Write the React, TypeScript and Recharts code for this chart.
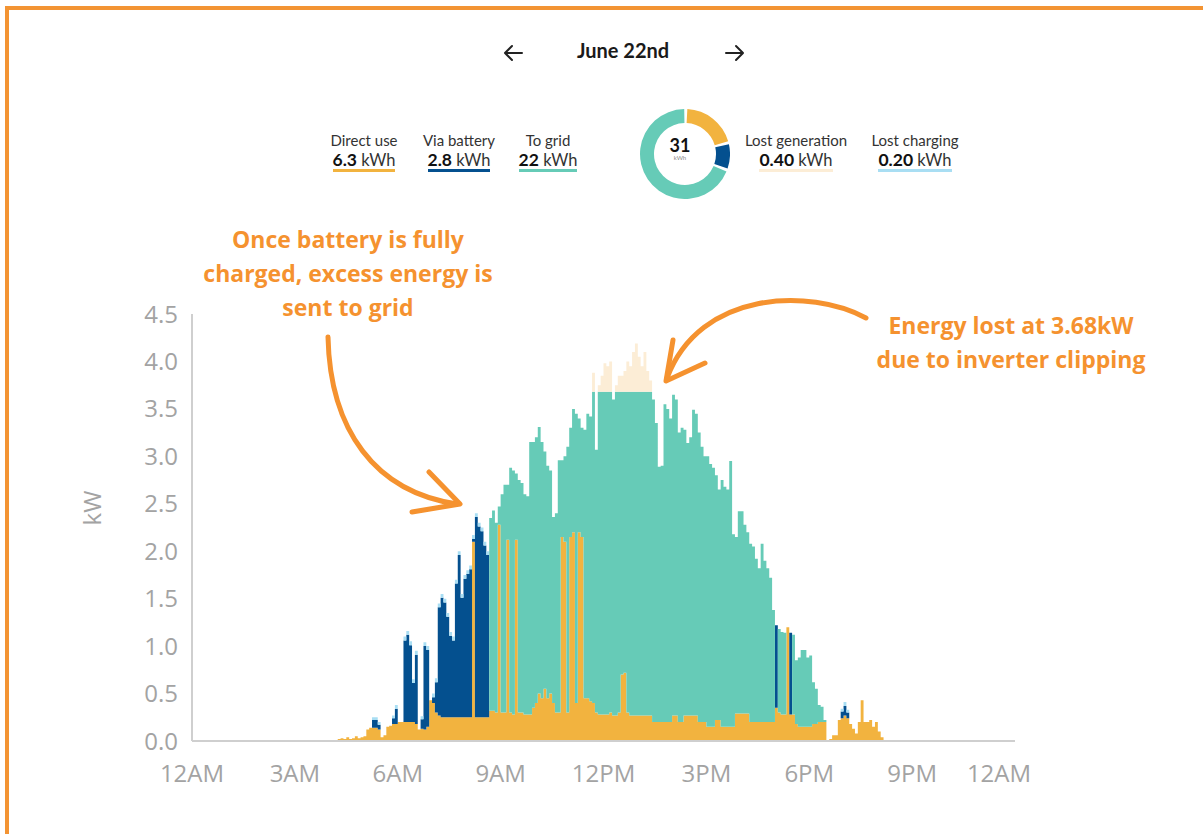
import React from 'react';
import { ComposedChart, Area, XAxis, YAxis, PieChart, Pie, Cell } from 'recharts';

// 5-minute slots from 4:00 AM to 8:55 PM, one row per hour (kW)
const START_HOUR = 4;
const STEP_MIN = 5;

const directUse = [
  0, 0, 0, 0.02, 0.03, 0.02, 0.04, 0.02, 0.03, 0.05, 0.03, 0.04, // 4AM
  0.05, 0.12, 0.14, 0.14, 0.14, 0.12, 0.04, 0.06, 0.15, 0.16, 0.18, 0.18, // 5AM
  0.2, 0.2, 0.2, 0.2, 0.2, 0.2, 0.18, 0.12, 0.13, 0.12, 0.15, 0.43, // 6AM
  0.4, 0.3, 0.27, 0.25, 0.25, 0.25, 0.25, 0.25, 0.25, 0.25, 0.25, 0.25, // 7AM
  0.25, 0.25, 2.1, 0.25, 0.25, 0.25, 0.25, 0.25, 0.32, 0.32, 0.3, 2.28, // 8AM
  0.3, 0.3, 2.12, 0.3, 0.28, 2.12, 0.3, 0.3, 0.28, 0.28, 0.28, 0.35, // 9AM
  0.4, 0.5, 0.45, 0.55, 0.45, 0.5, 0.4, 0.3, 0.3, 2.15, 2.1, 0.3, // 10AM
  2.15, 2.2, 0.4, 2.2, 2.15, 0.45, 0.45, 0.42, 0.4, 0.3, 0.28, 0.28, // 11AM
  0.28, 0.28, 0.3, 0.27, 0.27, 0.3, 0.7, 0.72, 0.3, 0.27, 0.27, 0.27, // 12PM
  0.27, 0.27, 0.27, 0.27, 0.27, 0.2, 0.2, 0.2, 0.2, 0.2, 0.2, 0.2, // 1PM
  0.27, 0.27, 0.2, 0.2, 0.27, 0.27, 0.27, 0.27, 0.27, 0.2, 0.2, 0.2, // 2PM
  0.15, 0.15, 0.15, 0.22, 0.22, 0.15, 0.15, 0.15, 0.15, 0.15, 0.29, 0.29, // 3PM
  0.29, 0.29, 0.29, 0.2, 0.2, 0.2, 0.2, 0.2, 0.2, 0.2, 0.2, 0.2, // 4PM
  0.35, 0.3, 0.28, 0.28, 1.2, 0.28, 0.28, 0.18, 0.15, 0.15, 0.15, 0.15, // 5PM
  0.15, 0.18, 0.18, 0.2, 0.2, 0.2, 0, 0.02, 0.06, 0.06, 0.22, 0.24, // 6PM
  0.27, 0.24, 0.18, 0.13, 0.08, 0.2, 0.43, 0.2, 0.2, 0.22, 0.15, 0.2, // 7PM
  0.1, 0.04, 0, 0, 0, 0, 0, 0, 0, 0, 0, 0, // 8PM
];

const viaBattery = [
  0, 0, 0, 0, 0, 0, 0, 0, 0, 0, 0, 0,
  0, 0, 0, 0.08, 0.08, 0.05, 0, 0, 0, 0, 0.06, 0.16,
  0, 0, 0.86, 0.92, 0.81, 0.41, 0.73, 0, 0.1, 0.88, 0.81, 0,
  0.06, 0.32, 1.14, 1.26, 1.21, 1.06, 0.86, 0.81, 1.41, 1.71, 1.26, 1.46,
  1.51, 1.56, 0.03, 2.11, 2.01, 1.96, 1.81, 1.71, 0, 0, 0, 0,
  0, 0, 0, 0, 0, 0, 0, 0, 0, 0, 0, 0,
  0, 0, 0, 0, 0, 0, 0, 0, 0, 0, 0, 0,
  0, 0, 0, 0, 0, 0, 0, 0, 0, 0, 0, 0,
  0, 0, 0, 0, 0, 0, 0, 0, 0, 0, 0, 0,
  0, 0, 0, 0, 0, 0, 0, 0, 0, 0, 0, 0,
  0, 0, 0, 0, 0, 0, 0, 0, 0, 0, 0, 0,
  0, 0, 0, 0, 0, 0, 0, 0, 0, 0, 0, 0,
  0, 0, 0, 0, 0, 0, 0, 0, 0, 0, 0, 0,
  0.87, 0, 0, 0, 0, 0.86, 0, 0, 0, 0, 0, 0,
  0, 0, 0, 0, 0, 0, 0, 0, 0, 0, 0, 0.07,
  0.1, 0.06, 0, 0, 0, 0, 0, 0, 0, 0, 0, 0,
  0, 0, 0, 0, 0, 0, 0, 0, 0, 0, 0, 0,
];

const lostCharging = [
  0, 0, 0, 0, 0, 0, 0, 0, 0, 0, 0, 0,
  0, 0, 0, 0.03, 0.03, 0.03, 0, 0, 0, 0, 0.03, 0.04,
  0, 0, 0.04, 0.04, 0.04, 0.04, 0.04, 0, 0.03, 0.04, 0.04, 0,
  0.04, 0.04, 0.04, 0.04, 0.04, 0.04, 0.04, 0.04, 0.04, 0.04, 0.04, 0.04,
  0.04, 0.04, 0.04, 0.04, 0.04, 0.04, 0.04, 0.04, 0, 0, 0, 0,
  0, 0, 0, 0, 0, 0, 0, 0, 0, 0, 0, 0,
  0, 0, 0, 0, 0, 0, 0, 0, 0, 0, 0, 0,
  0, 0, 0, 0, 0, 0, 0, 0, 0, 0, 0, 0,
  0, 0, 0, 0, 0, 0, 0, 0, 0, 0, 0, 0,
  0, 0, 0, 0, 0, 0, 0, 0, 0, 0, 0, 0,
  0, 0, 0, 0, 0, 0, 0, 0, 0, 0, 0, 0,
  0, 0, 0, 0, 0, 0, 0, 0, 0, 0, 0, 0,
  0, 0, 0, 0, 0, 0, 0, 0, 0, 0, 0, 0,
  0, 0, 0, 0, 0, 0, 0, 0, 0, 0, 0, 0,
  0, 0, 0, 0, 0, 0, 0, 0, 0, 0, 0, 0.03,
  0.04, 0.03, 0, 0, 0, 0, 0, 0, 0, 0, 0, 0,
  0, 0, 0, 0, 0, 0, 0, 0, 0, 0, 0, 0,
];

const toGrid = [
  0, 0, 0, 0, 0, 0, 0, 0, 0, 0, 0, 0,
  0, 0, 0, 0, 0, 0, 0, 0, 0, 0, 0, 0,
  0, 0, 0, 0, 0, 0, 0, 0, 0, 0, 0, 0,
  0, 0, 0, 0, 0, 0, 0, 0, 0, 0, 0, 0,
  0, 0, 0, 0, 0, 0, 0, 0, 2.03, 2.11, 2.0, 0.19,
  2.3, 2.4, 0.58, 2.58, 2.57, 0.7, 2.45, 2.42, 2.32, 2.3, 2.87, 2.8,
  2.8, 2.81, 2.7, 2.5, 2.45, 2.35, 1.96, 2.1, 2.66, 0.81, 0.9, 2.8,
  1.15, 1.3, 3.05, 1.2, 1.15, 2.83, 3.0, 3.0, 3.28, 2.77, 3.4, 3.4,
  3.4, 3.4, 3.38, 3.33, 3.41, 3.38, 2.98, 2.96, 3.38, 3.41, 3.41, 3.41,
  3.41, 3.41, 3.41, 3.41, 3.41, 3.4, 3.15, 2.69, 2.7, 3.35, 3.3, 3.2,
  3.38, 3.33, 3.05, 3.1, 3.01, 2.87, 2.93, 3.22, 3.18, 3.05, 2.9, 2.8,
  2.85, 2.77, 2.73, 2.58, 2.43, 2.6, 2.53, 2.5, 2.8, 2.03, 1.86, 2.13,
  2.13, 1.99, 1.91, 1.88, 1.85, 1.72, 1.62, 1.88, 1.7, 1.62, 1.52, 1.18,
  0, 0.88, 0.87, 0.86, 0, 0, 0.84, 0.67, 0.73, 0.81, 0.81, 0.73,
  0.75, 0.44, 0.37, 0.18, 0.16, 0.02, 0, 0, 0, 0, 0, 0,
  0, 0, 0, 0, 0, 0, 0, 0, 0, 0, 0, 0,
  0, 0, 0, 0, 0, 0, 0, 0, 0, 0, 0, 0,
];

// generation above the 3.68kW inverter limit
const lostGeneration = [
  0, 0, 0, 0, 0, 0, 0, 0, 0, 0, 0, 0,
  0, 0, 0, 0, 0, 0, 0, 0, 0, 0, 0, 0,
  0, 0, 0, 0, 0, 0, 0, 0, 0, 0, 0, 0,
  0, 0, 0, 0, 0, 0, 0, 0, 0, 0, 0, 0,
  0, 0, 0, 0, 0, 0, 0, 0, 0, 0, 0, 0,
  0, 0, 0, 0, 0, 0, 0, 0, 0, 0, 0, 0,
  0, 0, 0, 0, 0, 0, 0, 0, 0, 0, 0, 0,
  0, 0, 0, 0, 0, 0, 0, 0, 0.2, 0, 0.07, 0.17,
  0.3, 0.27, 0.32, 0, 0.07, 0.17, 0.17, 0.22, 0.32, 0.27, 0.42, 0.51,
  0.37, 0.27, 0.42, 0.22, 0.12, 0, 0, 0, 0, 0, 0, 0,
  0, 0, 0, 0, 0, 0, 0, 0, 0, 0, 0, 0,
  0, 0, 0, 0, 0, 0, 0, 0, 0, 0, 0, 0,
  0, 0, 0, 0, 0, 0, 0, 0, 0, 0, 0, 0,
  0, 0, 0, 0, 0, 0, 0, 0, 0, 0, 0, 0,
  0, 0, 0, 0, 0, 0, 0, 0, 0, 0, 0, 0,
  0, 0, 0, 0, 0, 0, 0, 0, 0, 0, 0, 0,
  0, 0, 0, 0, 0, 0, 0, 0, 0, 0, 0, 0,
];

const hourTicks = [0, 3, 6, 9, 12, 15, 18, 21, 24];
const hourLabels = ['12AM', '3AM', '6AM', '9AM', '12PM', '3PM', '6PM', '9PM', '12AM'];
const kwTicks = [0, 0.5, 1, 1.5, 2, 2.5, 3, 3.5, 4, 4.5];

const C_DIRECT = '#F2B33F';
const C_BATTERY = '#04508F';
const C_GRID = '#66CBB7';
const C_LOSTGEN = '#FCEDD6';
const C_LOSTCHG = '#A9DEF3';
const ORANGE = '#F5922F';

const donutNames = ['Direct use', 'Via battery', 'To grid'];
const donutValues = [6.3, 2.8, 22];
const donutColors = [C_DIRECT, C_BATTERY, C_GRID];
const donutTotal = '31';

const legendLeft = [
  { label: 'Direct use', value: '6.3', color: C_DIRECT, cx: 364 },
  { label: 'Via battery', value: '2.8', color: C_BATTERY, cx: 459 },
  { label: 'To grid', value: '22', color: C_GRID, cx: 548 },
];
const legendRight = [
  { label: 'Lost generation', value: '0.40', color: C_LOSTGEN, cx: 796 },
  { label: 'Lost charging', value: '0.20', color: C_LOSTCHG, cx: 915 },
];

const data = directUse.map((v, i) => ({
  t: START_HOUR + (i * STEP_MIN) / 60,
  direct: v,
  battery: viaBattery[i],
  lostChg: lostCharging[i],
  grid: toGrid[i],
  lostGen: lostGeneration[i],
}));

const font = 'Lato, "Open Sans", sans-serif';

const XTick = (props: any) => {
  const { x, y, payload } = props;
  const idx = hourTicks.indexOf(payload.value);
  const shift = payload.value === 24 ? -16 : 0;
  return (
    <text x={x + shift} y={y} dy="0.71em" textAnchor="middle" fill="#a3a3a3" fontSize={24} fontFamily='"Open Sans", sans-serif'>
      {hourLabels[idx]}
    </text>
  );
};

const LegendItem = ({ item }: { item: any }) => (
  <div style={{ position: 'absolute', left: item.cx - 70, top: 131, width: 140, textAlign: 'center', fontFamily: font, color: '#333' }}>
    <div style={{ fontSize: 15, lineHeight: '19px' }}>{item.label}</div>
    <span style={{ display: 'inline-block', fontSize: 16.5, lineHeight: '18px', borderBottom: `3px solid ${item.color}`, paddingBottom: 0 }}>
      <b style={{ fontSize: 17.5, color: '#111' }}>{item.value}</b> kWh
    </span>
  </div>
);

export default function App() {
  return (
    <div style={{ position: 'absolute', left: 0, top: 0, width: 1203, height: 834, overflow: 'hidden', background: '#fff' }}>
      {/* cut-off page title above the frame */}
      <div style={{ position: 'absolute', left: 10, top: -29, fontFamily: font, fontSize: 24, color: '#222', whiteSpace: 'nowrap' }}>
        <b>Clipping</b>, on a high generation day
      </div>
      <div style={{ position: 'absolute', left: 5, top: 6, width: 1198, height: 828, borderTop: `4px solid #F39433`, borderLeft: `4px solid #F39433`, boxSizing: 'border-box' }} />

      <div style={{ position: 'absolute', left: 0, top: 0 }}>
        <ComposedChart width={1203} height={834} data={data} margin={{ top: 314, right: 188, bottom: 63, left: 132 }}>
          <XAxis
            dataKey="t"
            type="number"
            domain={[0, 24]}
            ticks={hourTicks}
            tick={<XTick />}
            tickLine={false}
            tickMargin={18}
            height={30}
            stroke="#cfcfcf"
            strokeWidth={2}
            allowDataOverflow
          />
          <YAxis
            type="number"
            domain={[0, 4.5]}
            ticks={kwTicks}
            tickFormatter={(v: number) => v.toFixed(1)}
            tick={{ fill: '#a3a3a3', fontSize: 24, fontFamily: '"Open Sans", sans-serif' }}
            tickLine={false}
            tickMargin={8}
            width={60}
            stroke="#cfcfcf"
            strokeWidth={2}
          />
          <Area type="stepAfter" dataKey="direct" stackId="1" stroke="none" fill={C_DIRECT} fillOpacity={1} isAnimationActive={false} dot={false} activeDot={false} />
          <Area type="stepAfter" dataKey="battery" stackId="1" stroke="none" fill={C_BATTERY} fillOpacity={1} isAnimationActive={false} dot={false} activeDot={false} />
          <Area type="stepAfter" dataKey="lostChg" stackId="1" stroke="none" fill={C_LOSTCHG} fillOpacity={1} isAnimationActive={false} dot={false} activeDot={false} />
          <Area type="stepAfter" dataKey="grid" stackId="1" stroke="none" fill={C_GRID} fillOpacity={1} isAnimationActive={false} dot={false} activeDot={false} />
          <Area type="stepAfter" dataKey="lostGen" stackId="1" stroke="none" fill={C_LOSTGEN} fillOpacity={1} isAnimationActive={false} dot={false} activeDot={false} />
        </ComposedChart>
      </div>

      <div style={{ position: 'absolute', left: 92 - 30, top: 508 - 16, width: 60, height: 32, transform: 'rotate(-90deg)', textAlign: 'center', fontFamily: '"Open Sans", sans-serif', fontSize: 24, color: '#a3a3a3', lineHeight: '32px' }}>
        kW
      </div>

      {/* date header */}
      <svg style={{ position: 'absolute', left: 500, top: 40 }} width={250} height={26}>
        <g stroke="#222" strokeWidth={2} fill="none" strokeLinecap="round" strokeLinejoin="round">
          <path d="M 22 13 L 6 13 M 12 6 L 5 13 L 12 20" />
          <path d="M 226 13 L 242 13 M 236 6 L 243 13 L 236 20" />
        </g>
      </svg>
      <div style={{ position: 'absolute', left: 523, top: 38, width: 200, textAlign: 'center', fontFamily: font, fontWeight: 700, fontSize: 20, color: '#1a1a1a' }}>
        June 22nd
      </div>

      {legendLeft.map((it) => <LegendItem key={it.label} item={it} />)}
      {legendRight.map((it) => <LegendItem key={it.label} item={it} />)}

      <div style={{ position: 'absolute', left: 630, top: 99 }}>
        <PieChart width={100} height={100}>
          <Pie
            data={donutValues.map((v, i) => ({ name: donutNames[i], value: v }))}
            dataKey="value"
            cx={50}
            cy={50}
            innerRadius={31}
            outerRadius={45}
            startAngle={87}
            endAngle={-273}
            paddingAngle={4}
            stroke="none"
            isAnimationActive={false}
          >
            {donutColors.map((c) => <Cell key={c} fill={c} />)}
          </Pie>
        </PieChart>
      </div>
      <div style={{ position: 'absolute', left: 650, top: 135, width: 60, textAlign: 'center', fontFamily: font, fontWeight: 700, fontSize: 18, color: '#111', lineHeight: '20px' }}>
        {donutTotal}
      </div>
      <div style={{ position: 'absolute', left: 650, top: 154, width: 60, textAlign: 'center', fontFamily: font, fontSize: 6, color: '#888' }}>
        kWh
      </div>

      {/* annotations */}
      <div style={{ position: 'absolute', left: 148, top: 222, width: 400, textAlign: 'center', fontFamily: '"Open Sans", sans-serif', fontWeight: 700, fontSize: 23, lineHeight: '34px', color: ORANGE }}>
        Once battery is fully<br />charged, excess energy is<br />sent to grid
      </div>
      <div style={{ position: 'absolute', left: 861, top: 308, width: 300, textAlign: 'center', fontFamily: '"Open Sans", sans-serif', fontWeight: 700, fontSize: 23, lineHeight: '34px', color: ORANGE }}>
        Energy lost at 3.68kW<br />due to inverter clipping
      </div>
      <svg style={{ position: 'absolute', left: 0, top: 0 }} width={1203} height={834}>
        <g stroke={ORANGE} strokeWidth={5} fill="none" strokeLinecap="round" strokeLinejoin="round">
          <path d="M 328 337 C 330 430, 375 492, 457 504" />
          <path d="M 429 472 L 460 504 L 412 512" />
          <path d="M 866 318 C 810 288, 700 290, 667 378" />
          <path d="M 673 340 L 666 381 L 705 363" />
        </g>
      </svg>
    </div>
  );
}
